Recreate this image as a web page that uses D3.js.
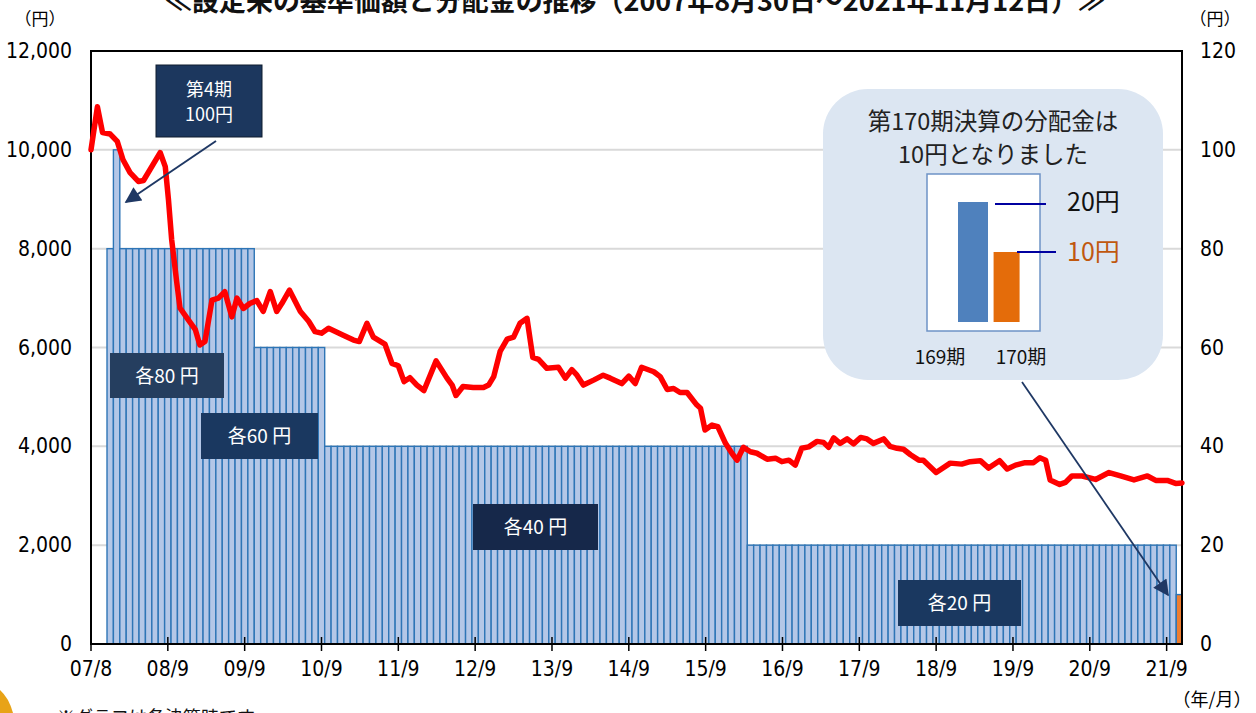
<!DOCTYPE html>
<html><head><meta charset="utf-8">
<script src="https://cdn.jsdelivr.net/npm/d3@7/dist/d3.min.js"></script>
<style>body{margin:0;background:#fff;} svg{display:block;}</style>
</head><body>
<svg id="c" width="1256" height="713"></svg>
<script>
// ---------- DATA ----------
// NAV (基準価額) — months elapsed since 2007/8/30, and value in yen
const navMonth = [0.0,1.0,1.8,3.0,4.1,5.0,6.1,7.4,8.2,10.8,11.6,12.1,12.6,13.4,13.9,15.2,16.3,17.0,17.8,18.9,19.9,20.9,22.0,22.8,23.8,24.8,25.9,26.9,28.0,29.0,29.8,31.0,32.7,34.0,35.0,36.0,37.1,39.4,41.0,41.9,43.1,44.1,45.9,47.0,48.0,48.9,49.8,50.9,52.0,53.9,55.6,56.4,57.0,58.1,59.7,61.3,62.1,62.9,63.9,65.0,66.0,67.0,68.1,69.0,69.9,71.2,73.0,74.1,75.1,75.9,76.9,78.5,80.0,81.1,82.9,84.0,85.0,86.0,87.9,88.9,90.0,91.0,92.0,93.1,94.6,95.2,95.9,97.0,97.9,99.1,100.1,100.9,101.9,103.0,104.0,105.6,106.9,107.9,109.0,110.0,111.0,112.1,113.4,114.4,115.2,116.0,117.0,118.1,119.1,120.2,121.2,122.2,123.8,124.8,125.9,126.9,128.0,129.3,130.0,132.0,134.2,136.0,137.3,138.9,140.2,141.9,143.1,144.4,145.9,147.2,148.2,149.1,149.8,151.3,152.2,153.2,154.8,156.9,159.0,160.8,162.9,165.0,166.3,168.1,169.4,170.4];
const navValue = [10000,10870,10350,10320,10170,9800,9540,9360,9380,9945,9660,8990,8180,7310,6800,6560,6360,6050,6120,6960,7000,7130,6620,7000,6790,6890,6950,6730,7130,6730,6890,7160,6730,6530,6320,6290,6390,6250,6150,6120,6490,6210,6070,5680,5630,5310,5390,5240,5130,5730,5380,5240,5030,5210,5190,5190,5240,5410,5920,6170,6210,6490,6590,5800,5760,5580,5600,5380,5550,5440,5240,5340,5440,5380,5270,5420,5270,5600,5510,5410,5150,5170,5090,5090,4840,4770,4330,4430,4400,4060,3860,3720,3980,3890,3860,3740,3760,3690,3720,3620,3960,3990,4100,4080,3980,4170,4060,4150,4050,4180,4150,4060,4150,4000,3960,3940,3830,3720,3720,3470,3660,3640,3690,3710,3560,3710,3540,3620,3670,3670,3770,3720,3320,3230,3270,3400,3400,3330,3470,3400,3320,3400,3310,3310,3250,3260];

// Distribution (分配金) per period 1..170, yen
const distribution = [
  0,0,80,100,80,80,80,80,80,80,80,80,80,80,80,80,80,80,80,80,80,80,80,80,80,
  60,60,60,60,60,60,60,60,60,60,60,
  40,40,40,40,40,40,40,40,40,40,40,40,40,40,40,40,40,40,40,40,40,40,40,40,40,40,40,40,40,40,40,40,40,
  40,40,40,40,40,40,40,40,40,40,40,40,40,40,40,40,40,40,40,40,40,40,40,40,40,40,40,40,40,40,40,40,40,
  20,20,20,20,20,20,20,20,20,20,20,20,20,20,20,20,20,20,20,20,20,20,20,20,20,20,20,20,20,20,20,20,20,20,
  20,20,20,20,20,20,20,20,20,20,20,20,20,20,20,20,20,20,20,20,20,20,20,20,20,20,20,20,20,20,20,20,20,
  10
];

const xTickMonths = [0,12,24,36,48,60,72,84,96,108,120,132,144,156,168];
const xTickLabels = ["07/8","08/9","09/9","10/9","11/9","12/9","13/9","14/9","15/9","16/9","17/9","18/9","19/9","20/9","21/9"];
const leftTicks = [0,2000,4000,6000,8000,10000,12000];
const rightTicks = [0,20,40,60,80,100,120];

const miniPeriods = ["169期","170期"];
const miniValues = [20,10];
const miniLabels = ["20円","10円"];

const rangeLabels = ["各80 円","各60 円","各40 円","各20 円"];

// ---------- LAYOUT ----------
const svg = d3.select("#c");
const L = 91, R = 1182, T = 51, B = 644;
const x = d3.scaleLinear().domain([0, 170.4]).range([L, R]);
const y = d3.scaleLinear().domain([0, 12000]).range([B, T]);
const y2 = d3.scaleLinear().domain([0, 120]).range([B, T]);
const numFont = "'Liberation Sans Narrow','Arial Narrow','DejaVu Sans Condensed',sans-serif";
const jpFont = "'Noto Sans CJK JP','Noto Sans',sans-serif";

svg.append("rect").attr("width",1256).attr("height",713).attr("fill","#fff");

// title (partly clipped at top, as in the original)
svg.append("text").attr("x",635).attr("y",11).attr("text-anchor","middle")
  .attr("font-family",jpFont).attr("font-weight","bold").attr("font-size",27)
  .attr("textLength",940).attr("lengthAdjust","spacingAndGlyphs").attr("fill","#111")
  .text("≪設定来の基準価額と分配金の推移（2007年8月30日～2021年11月12日）≫");

// gridlines
svg.append("g").selectAll("line").data(leftTicks.filter(d=>d>0 && d<12000)).join("line")
  .attr("x1",L).attr("x2",R).attr("y1",d=>y(d)).attr("y2",d=>y(d))
  .attr("stroke","#d9d9d9").attr("stroke-width",2);

// bars
const bars = distribution.map((v,i)=>({period:i+1, value:v})).filter(d=>d.value>0);
svg.append("g").selectAll("rect").data(bars).join("rect")
  .attr("x",d=>x(d.period-0.5))
  .attr("width",d=>Math.min(x(d.period+0.5),R)-x(d.period-0.5))
  .attr("y",d=>y2(d.value)).attr("height",d=>B-y2(d.value))
  .attr("fill",d=>d.period===170?"#ed7d31":"#b4c7e7")
  .attr("stroke","#2e75b6").attr("stroke-width",1.4);

// frame
svg.append("rect").attr("x",L).attr("y",T).attr("width",R-L).attr("height",B-T)
  .attr("fill","none").attr("stroke","#000").attr("stroke-width",2);

// x ticks
svg.append("g").selectAll("line").data(xTickMonths).join("line")
  .attr("x1",d=>x(d)).attr("x2",d=>x(d)).attr("y1",B-7).attr("y2",B+7)
  .attr("stroke","#000").attr("stroke-width",1.5);
svg.append("g").selectAll("text").data(xTickMonths).join("text")
  .attr("x",d=>x(d)).attr("y",676).attr("text-anchor","middle")
  .attr("font-family",numFont).attr("font-size",21).attr("fill","#000")
  .text((d,i)=>xTickLabels[i]);

// left labels
const fmt = d3.format(",");
svg.append("g").selectAll("text").data(leftTicks).join("text")
  .attr("x",72).attr("y",d=>y(d)+7).attr("text-anchor","end")
  .attr("font-family",numFont).attr("font-size",21).attr("fill","#000")
  .text(d=>fmt(d));
// right labels
svg.append("g").selectAll("text").data(rightTicks).join("text")
  .attr("x",1200).attr("y",d=>y2(d)+7).attr("text-anchor","start")
  .attr("font-family",numFont).attr("font-size",21).attr("fill","#000")
  .text(d=>d);

// unit labels
svg.append("text").attr("x",40).attr("y",25).attr("text-anchor","middle")
  .attr("font-family",jpFont).attr("font-size",17).attr("fill","#000").text("（円）");
svg.append("text").attr("x",1215).attr("y",25).attr("text-anchor","middle")
  .attr("font-family",jpFont).attr("font-size",17).attr("fill","#000").text("（円）");
svg.append("text").attr("x",1212).attr("y",706).attr("text-anchor","middle")
  .attr("font-family",jpFont).attr("font-size",18).attr("fill","#000").text("（年/月）");

// NAV line
const line = d3.line().x(d=>x(d[0])).y(d=>y(d[1]));
svg.append("path").datum(navMonth.map((m,i)=>[m,navValue[i]]))
  .attr("d",line).attr("fill","none").attr("stroke","#ff0000")
  .attr("stroke-width",5.5).attr("stroke-linejoin","round").attr("stroke-linecap","round");

// arrow marker
const defs = svg.append("defs");
defs.append("marker").attr("id","arr").attr("viewBox","0 0 10 10")
  .attr("refX",9).attr("refY",5).attr("markerUnits","userSpaceOnUse")
  .attr("markerWidth",20).attr("markerHeight",16).attr("orient","auto")
  .append("path").attr("d","M0,0 L10,5 L0,10 Z").attr("fill","#1f3864");

// 第4期 box
svg.append("rect").attr("x",156).attr("y",65).attr("width",106).attr("height",72)
  .attr("fill","#1c375e").attr("stroke","#0e1c2e").attr("stroke-width",1);
svg.append("text").attr("x",209).attr("y",96).attr("text-anchor","middle")
  .attr("font-family",jpFont).attr("font-size",18).attr("fill","#fff").text("第4期");
svg.append("text").attr("x",209).attr("y",121).attr("text-anchor","middle")
  .attr("font-family",jpFont).attr("font-size",18).attr("fill","#fff").text("100円");
svg.append("line").attr("x1",216).attr("y1",141).attr("x2",126).attr("y2",202)
  .attr("stroke","#1f3864").attr("stroke-width",2).attr("marker-end","url(#arr)");

// range label boxes
const rangeBoxes = [
  {x:110,y:353,w:114,h:45,c:"#253e5f"},
  {x:201,y:413,w:117,h:46,c:"#1a3860"},
  {x:473,y:504,w:125,h:46,c:"#16284a"},
  {x:898,y:580,w:123,h:46,c:"#1a3860"}
];
rangeBoxes.forEach((b,i)=>{
  svg.append("rect").attr("x",b.x).attr("y",b.y).attr("width",b.w).attr("height",b.h).attr("fill",b.c);
  svg.append("text").attr("x",b.x+b.w/2).attr("y",b.y+b.h/2+7).attr("text-anchor","middle")
    .attr("font-family",jpFont).attr("font-size",19).attr("fill","#fff").text(rangeLabels[i]);
});

// callout
svg.append("rect").attr("x",823).attr("y",89).attr("width",340).attr("height",291)
  .attr("rx",45).attr("ry",45).attr("fill","#dce6f2");
svg.append("text").attr("x",993).attr("y",130).attr("text-anchor","middle")
  .attr("font-family",jpFont).attr("font-size",23.5).attr("fill","#222").text("第170期決算の分配金は");
svg.append("text").attr("x",993).attr("y",163).attr("text-anchor","middle")
  .attr("font-family",jpFont).attr("font-size",23.5).attr("fill","#222").text("10円となりました");
svg.append("rect").attr("x",927).attr("y",174).attr("width",113).attr("height",157)
  .attr("fill","#fff").attr("stroke","#6d93c6").attr("stroke-width",1.5);
const mx = d3.scaleBand().domain(miniPeriods).range([950,1026]).paddingInner(0.08);
const my = d3.scaleLinear().domain([-4,20]).range([322,202]);
const miniColors = ["#4f81bd","#e46c0a"];
svg.append("g").selectAll("rect").data(miniValues).join("rect")
  .attr("x",(d,i)=>mx(miniPeriods[i])+(i===0?8:4)).attr("width",(d,i)=>i===0?30:26)
  .attr("y",d=>my(d)).attr("height",d=>322-my(d)).attr("fill",(d,i)=>miniColors[i]);
// leader lines & labels
svg.append("line").attr("x1",995).attr("x2",1046).attr("y1",my(miniValues[0])+2).attr("y2",my(miniValues[0])+2)
  .attr("stroke","#0000a0").attr("stroke-width",2);
svg.append("line").attr("x1",1017).attr("x2",1056).attr("y1",my(miniValues[1])).attr("y2",my(miniValues[1]))
  .attr("stroke","#0000a0").attr("stroke-width",2);
svg.append("text").attr("x",1067).attr("y",211).attr("font-family",jpFont).attr("font-size",25)
  .attr("fill","#111").text(miniLabels[0]);
svg.append("text").attr("x",1067).attr("y",261).attr("font-family",jpFont).attr("font-size",25)
  .attr("fill","#c0580f").text(miniLabels[1]);
svg.append("text").attr("x",940).attr("y",364).attr("text-anchor","middle").attr("font-family",jpFont)
  .attr("font-size",19).attr("fill","#111").text(miniPeriods[0]);
svg.append("text").attr("x",1021).attr("y",364).attr("text-anchor","middle").attr("font-family",jpFont)
  .attr("font-size",19).attr("fill","#111").text(miniPeriods[1]);
svg.append("line").attr("x1",1022).attr("y1",382).attr("x2",1168).attr("y2",595)
  .attr("stroke","#1f3864").attr("stroke-width",1.8).attr("marker-end","url(#arr)");

// footnote (clipped at bottom, as in the original) and corner decoration
svg.append("text").attr("x",57).attr("y",724).attr("font-family",jpFont).attr("font-size",18)
  .attr("fill","#111").text("※グラフは各決算時です");
svg.append("path").attr("d","M0,690 Q9,698 13,713 L0,713 Z").attr("fill","#e8a317");
</script>
</body></html>
